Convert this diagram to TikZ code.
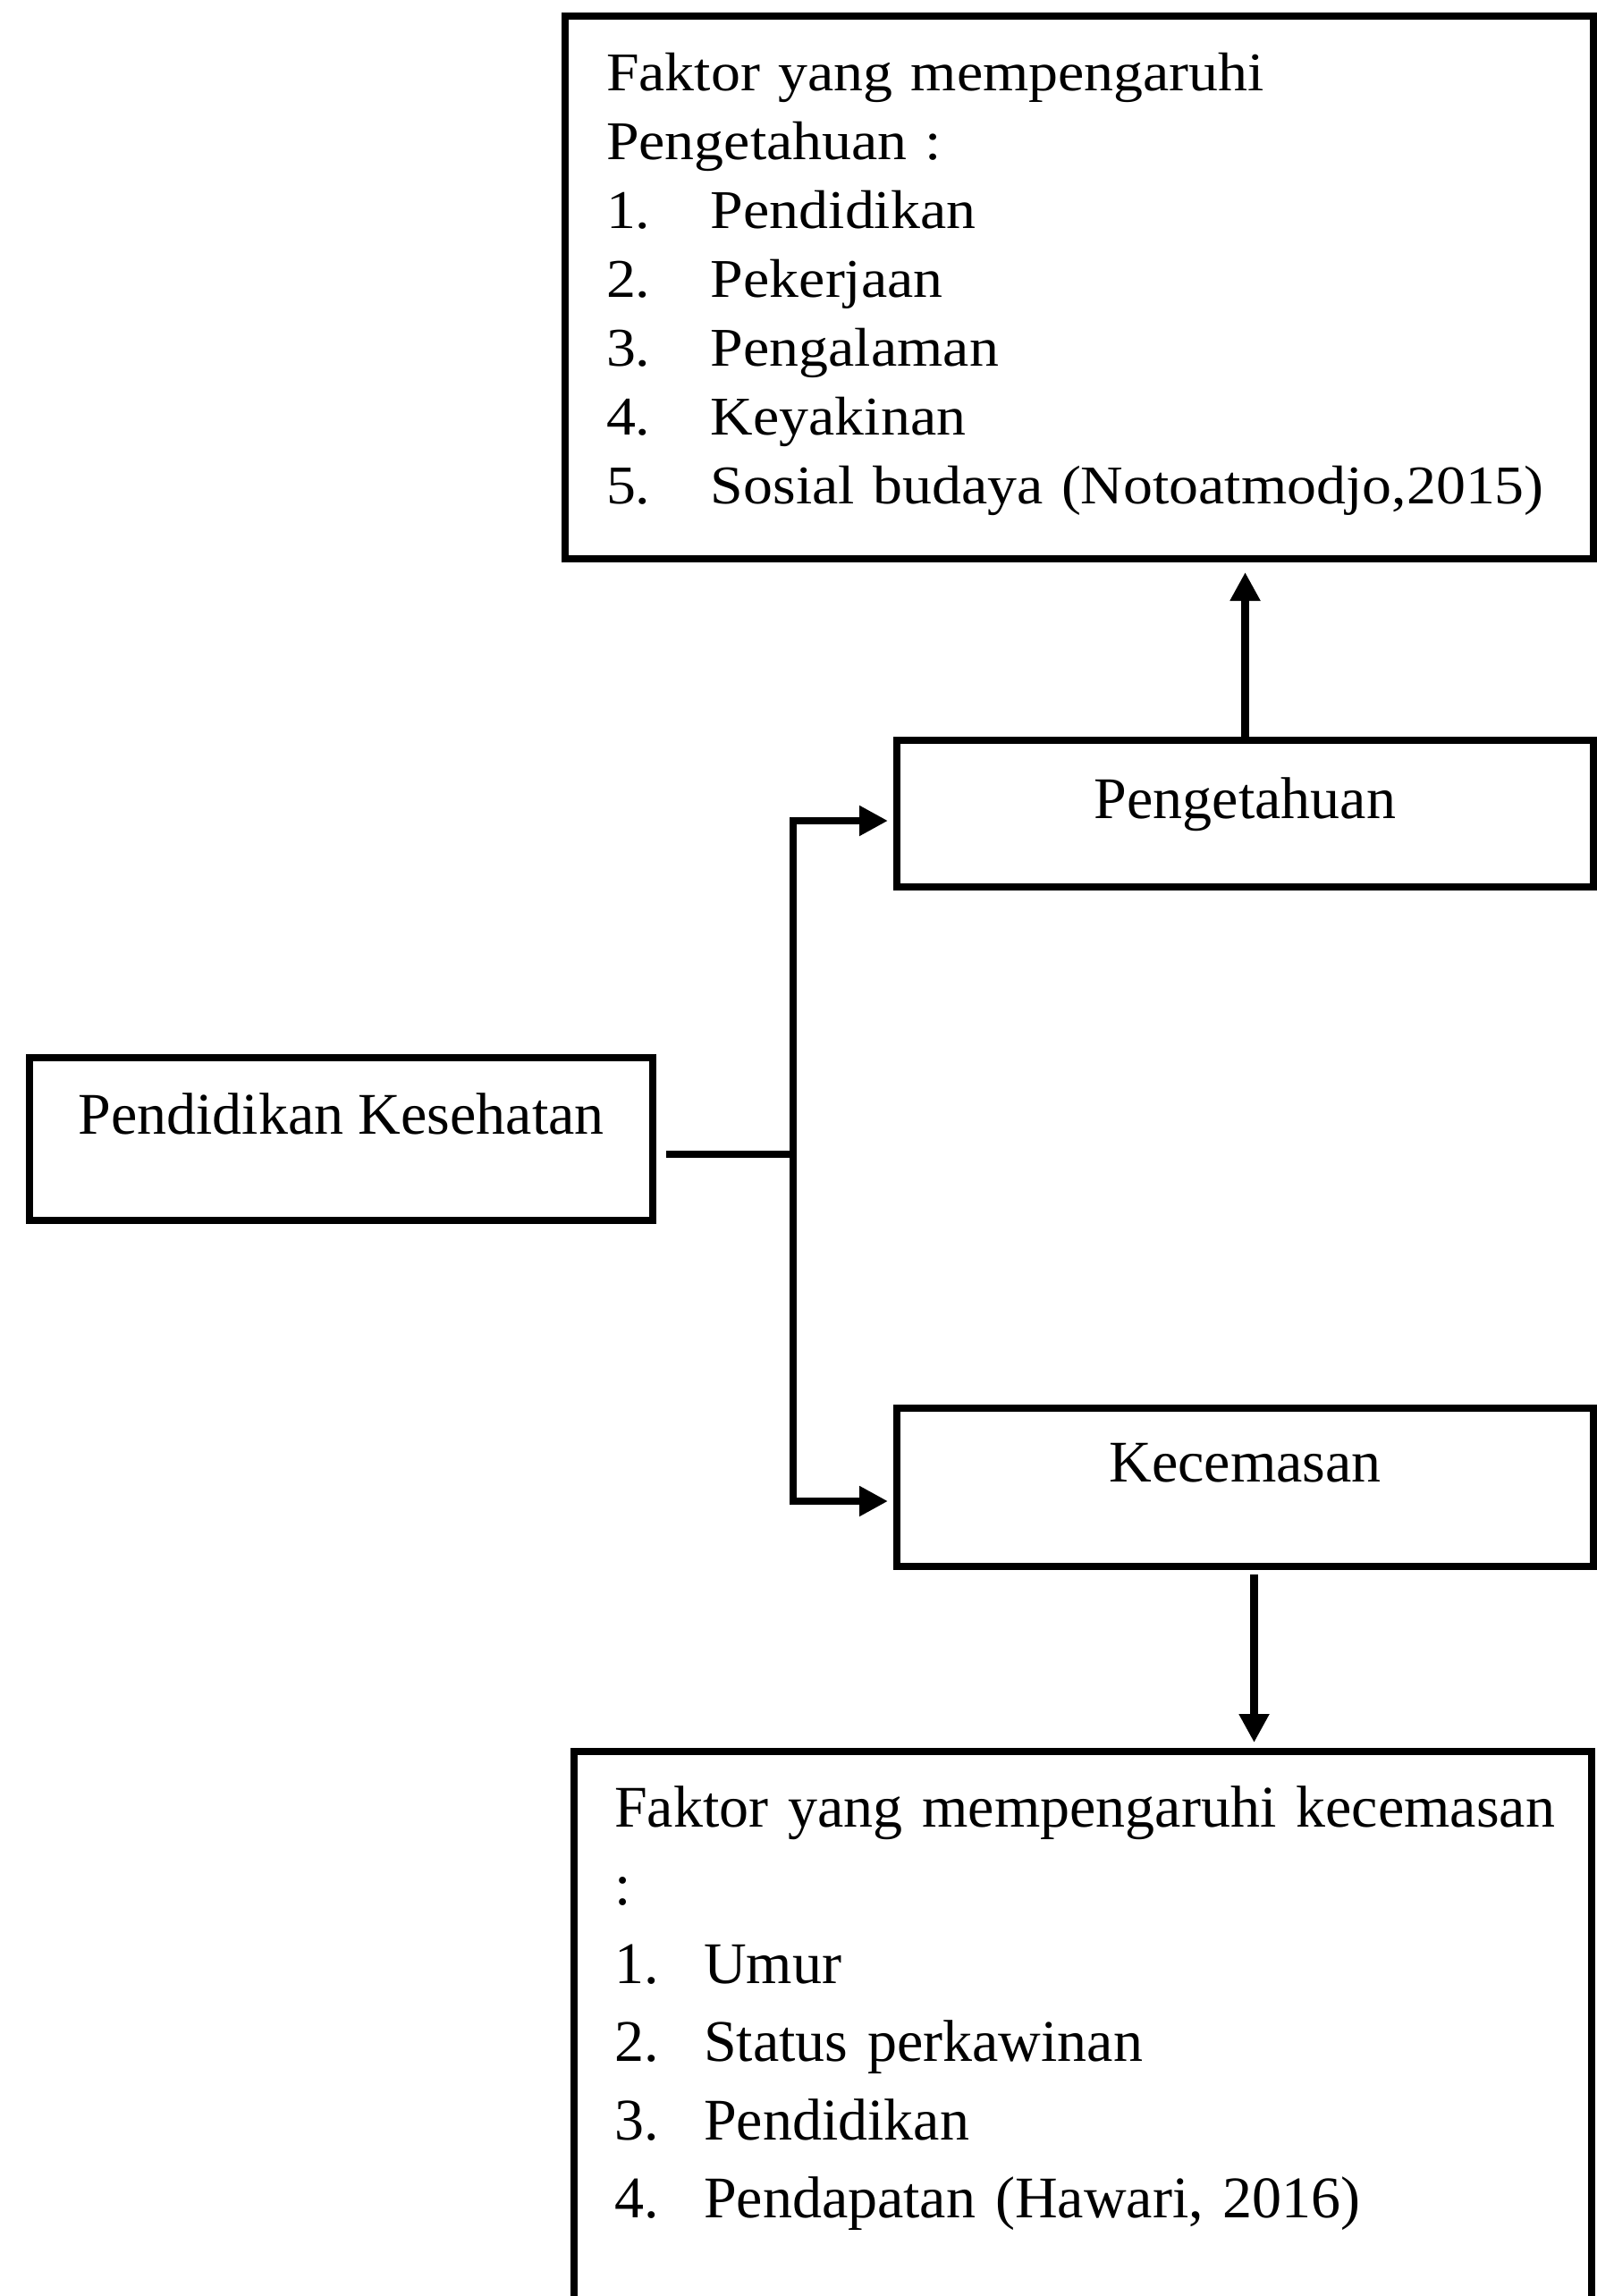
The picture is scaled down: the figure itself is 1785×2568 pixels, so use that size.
\documentclass[tikz,border=0pt]{standalone}
\usepackage{fontspec}
\setmainfont{Liberation Serif}
\newfontfamily\squashserif[FakeStretch=1.08]{Liberation Serif}
\usepackage{tikz}
\usetikzlibrary{arrows.meta,positioning}
\newcommand{\boxfont}{\fontsize{13.2pt}{17.5pt}\selectfont}
\newcommand{\listfont}{\squashserif\fontsize{12.2pt}{15.4pt}\selectfont}
\newcommand{\itemno}[2]{\makebox[#1][l]{#2}}
\tikzset{
    framebox/.style={
        rectangle,
        draw=black,
        line width=1.7pt,
        inner ysep=0pt,
        outer sep=0pt,
        anchor=north west,
        font=\boxfont
    },
    labelbox/.style={framebox, align=center, inner xsep=0pt},
    listbox/.style={framebox, align=left},
    line/.style={-{Triangle[length=6.4pt,width=6.4pt]}, line width=1.7pt},
    plain/.style={line width=1.7pt},
}
\begin{document}
\begin{tikzpicture}[x=0.2pt, y=-0.2pt]
    \useasboundingbox (0,0) rectangle (1785,2568);

    \node[listbox, font=\listfont, text width=211.6pt, inner xsep=9.2pt,
          text height=16.8pt, text depth=104.6pt] (faktorpeng) at (632,18)
        {\mbox{Faktor yang mempengaruhi}\\
         Pengetahuan :\\
         \itemno{23.4pt}{1.}Pendidikan\\
         \itemno{23.4pt}{2.}Pekerjaan\\
         \itemno{23.4pt}{3.}Pengalaman\\
         \itemno{23.4pt}{4.}Keyakinan\\
         \itemno{23.4pt}{5.}\mbox{Sosial budaya (Notoatmodjo,2015)}};
    \node[labelbox, minimum width=155.8pt, text height=17.4pt, text depth=15.4pt]
        (peng) at (1003,828) {Pengetahuan};
    \node[labelbox, minimum width=139.4pt, text height=17pt, text depth=19.4pt]
        (pendkes) at (33,1183) {Pendidikan Kesehatan};
    \node[labelbox, minimum width=155.8pt, text height=16.4pt, text depth=19pt]
        (kecem) at (1003,1575) {Kecemasan};
    \node[listbox, text width=209.6pt, inner xsep=9pt,
          text height=16.8pt, text depth=115.4pt] (faktorkec) at (642,1959)
        {\mbox{Faktor yang mempengaruhi kecemasan}\\
         :\\
         \itemno{20pt}{1.}Umur\\
         \itemno{20pt}{2.}Status perkawinan\\
         \itemno{20pt}{3.}Pendidikan\\
         \itemno{20pt}{4.}\mbox{Pendapatan (Hawari, 2016)}};

    \coordinate (fork) at (887,1291);
    \coordinate (forktop) at (887,918);
    \coordinate (forkbot) at (887,1679);

    \draw[plain, shorten <=3pt] (pendkes.east |- fork) -- (fork);
    \draw[line, shorten >=2pt] (fork) |- (peng.west |- forktop);
    \draw[line, shorten >=2pt] (fork) |- (kecem.west |- forkbot);
    \draw[line, shorten >=3pt] (peng.north) -- (peng.north |- faktorpeng.south);
    \draw[line, shorten <=1.8pt, shorten >=2pt]
        ([xshift=2pt]kecem.south) -- ([xshift=2pt]kecem.south |- faktorkec.north);
\end{tikzpicture}
\end{document}
